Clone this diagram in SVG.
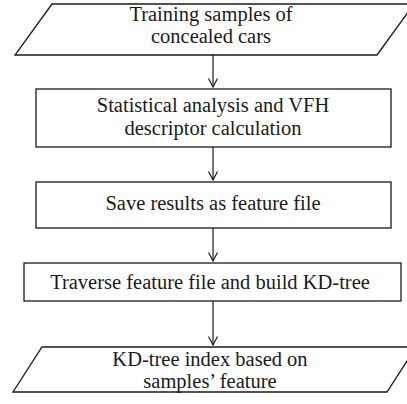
<svg xmlns="http://www.w3.org/2000/svg" width="407" height="404" viewBox="0 0 407 404">
<style>
.s{fill:#fff;stroke:#1a1a1a;stroke-width:1.3}
.t{font-family:"Liberation Serif","Times New Roman",serif;font-size:20.5px;fill:#1a1a1a;text-anchor:middle}
.c{stroke:#1a1a1a;stroke-width:1.2;fill:none}
</style>
<defs>
<marker id="ah" viewBox="0 0 10 10" refX="9.5" refY="5" markerWidth="10" markerHeight="10" markerUnits="userSpaceOnUse" orient="auto">
<path d="M1,0.5 L9.5,5 L1,9.5" fill="none" stroke="#1a1a1a" stroke-width="1.2"/>
</marker>
</defs>
<rect width="407" height="404" fill="#fff"/>
<g id="connectors">
<line class="c" x1="213" y1="55" x2="213" y2="87" marker-end="url(#ah)"/>
<line class="c" x1="213" y1="147" x2="213" y2="180" marker-end="url(#ah)"/>
<line class="c" x1="213" y1="228" x2="213" y2="261" marker-end="url(#ah)"/>
<line class="c" x1="213" y1="301" x2="213" y2="345" marker-end="url(#ah)"/>
</g>
<g id="n1">
<polygon class="s" points="52,4 414,4 377,55 15,55"/>
<text class="t" x="211" y="21">Training samples of</text>
<text class="t" x="211" y="43">concealed cars</text>
</g>
<g id="n2">
<rect class="s" x="36" y="89" width="355" height="58"/>
<text class="t" x="213" y="112">Statistical analysis and VFH</text>
<text class="t" x="213" y="135">descriptor calculation</text>
</g>
<g id="n3">
<rect class="s" x="36" y="182" width="355" height="46"/>
<text class="t" x="213" y="210">Save results as feature file</text>
</g>
<g id="n4">
<rect class="s" x="24" y="263" width="377" height="38"/>
<text class="t" x="210" y="289">Traverse feature file and build KD-tree</text>
</g>
<g id="n5">
<polygon class="s" points="42,347 416,347 387,392 13,392"/>
<text class="t" x="210" y="366">KD-tree index based on</text>
<text class="t" x="210" y="388">samples’ feature</text>
</g>
</svg>
